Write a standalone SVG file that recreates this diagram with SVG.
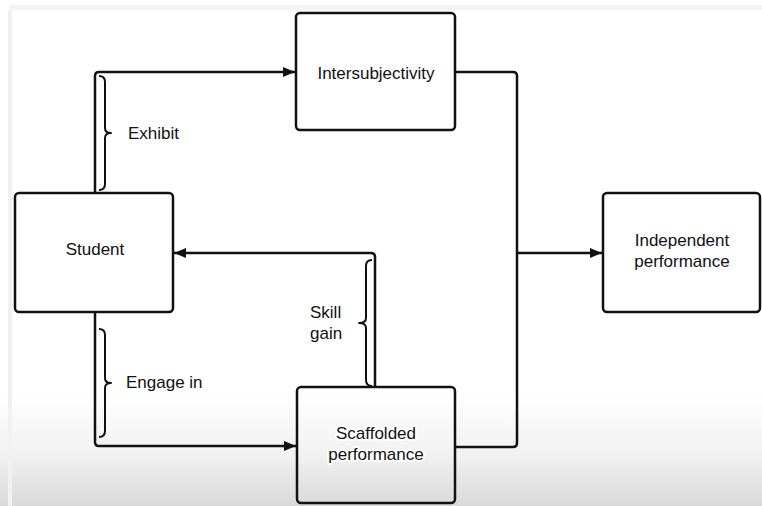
<svg xmlns="http://www.w3.org/2000/svg" width="762" height="506" viewBox="0 0 762 506">
  <defs>
    <linearGradient id="bg" x1="0" y1="0" x2="0" y2="1">
      <stop offset="0" stop-color="#ffffff"/>
      <stop offset="0.78" stop-color="#ffffff"/>
      <stop offset="0.9" stop-color="#f1f1f1"/>
      <stop offset="1" stop-color="#d9d9d9"/>
    </linearGradient>
    <marker id="arr" viewBox="0 0 12 10" refX="12" refY="5" markerWidth="12" markerHeight="10" markerUnits="userSpaceOnUse" orient="auto">
      <path d="M0,0 L12,5 L0,10 Z" fill="#111"/>
    </marker>
    <style>
      .box { fill: #ffffff; stroke: #111; stroke-width: 2.5; }
      .clear { fill: none; }
      .lbl { font-family: "Liberation Sans", Arial, sans-serif; font-size: 17px; fill: #111; }
      .mid { text-anchor: middle; }
      .halo { stroke: #ffffff; stroke-width: 4; paint-order: stroke; stroke-linejoin: round; }
      .conn { fill: none; stroke: #111; stroke-width: 2.5; stroke-linejoin: round; }
      .brace { fill: none; stroke: #111; stroke-width: 2; stroke-linejoin: round; }
    </style>
  </defs>

  <rect x="0" y="0" width="762" height="506" fill="url(#bg)"/>
  <rect x="10" y="5" width="752" height="5" fill="#f2f3f5"/>
  <rect x="8" y="10" width="4" height="496" fill="#f0f1f3"/>

  <g id="connectors">
    <path class="conn" d="M95,193 V76 Q95,72 99,72 H295" marker-end="url(#arr)"/>
    <path class="conn" d="M95,312 V442 Q95,446 99,446 H296" marker-end="url(#arr)"/>
    <path class="conn" d="M375,387 V257 Q375,253 371,253 H174" marker-end="url(#arr)"/>
    <path class="conn" d="M455,72 H513 Q517,72 517,76 V443 Q517,447 513,447 H455"/>
    <path class="conn" d="M517,253 H602" marker-end="url(#arr)"/>
    <path class="brace" d="M99,76 Q105,76 105,82 V128 Q105,133 111,133 Q105,133 105,138 V184 Q105,190 99,190"/>
    <path class="brace" d="M99,329 Q105,329 105,335 V378 Q105,383 111,383 Q105,383 105,388 V431 Q105,437 99,437"/>
    <path class="brace" d="M372,260 Q366,260 366,266 V318 Q366,323 359,323 Q366,323 366,328 V380 Q366,386 372,386"/>
    <text class="lbl" x="128" y="139">Exhibit</text>
    <text class="lbl" x="126" y="388">Engage in</text>
    <text class="lbl" x="310" y="318">Skill</text>
    <text class="lbl" x="310" y="339">gain</text>
  </g>

  <g id="intersubjectivity">
    <rect class="box" x="296" y="13" width="159" height="117" rx="4"/>
    <text class="lbl mid" x="376" y="79">Intersubjectivity</text>
  </g>

  <g id="student">
    <rect class="box" x="15" y="193" width="158" height="119" rx="4"/>
    <text class="lbl mid" x="95" y="255">Student</text>
  </g>

  <g id="scaffolded">
    <rect class="box clear" x="297" y="387" width="158" height="116" rx="4"/>
    <text class="lbl mid halo" x="376" y="439">Scaffolded</text>
    <text class="lbl mid halo" x="376" y="460">performance</text>
  </g>

  <g id="independent">
    <rect class="box" x="603" y="193" width="157" height="119" rx="4"/>
    <text class="lbl mid" x="682" y="246">Independent</text>
    <text class="lbl mid" x="682" y="267">performance</text>
  </g>
</svg>
